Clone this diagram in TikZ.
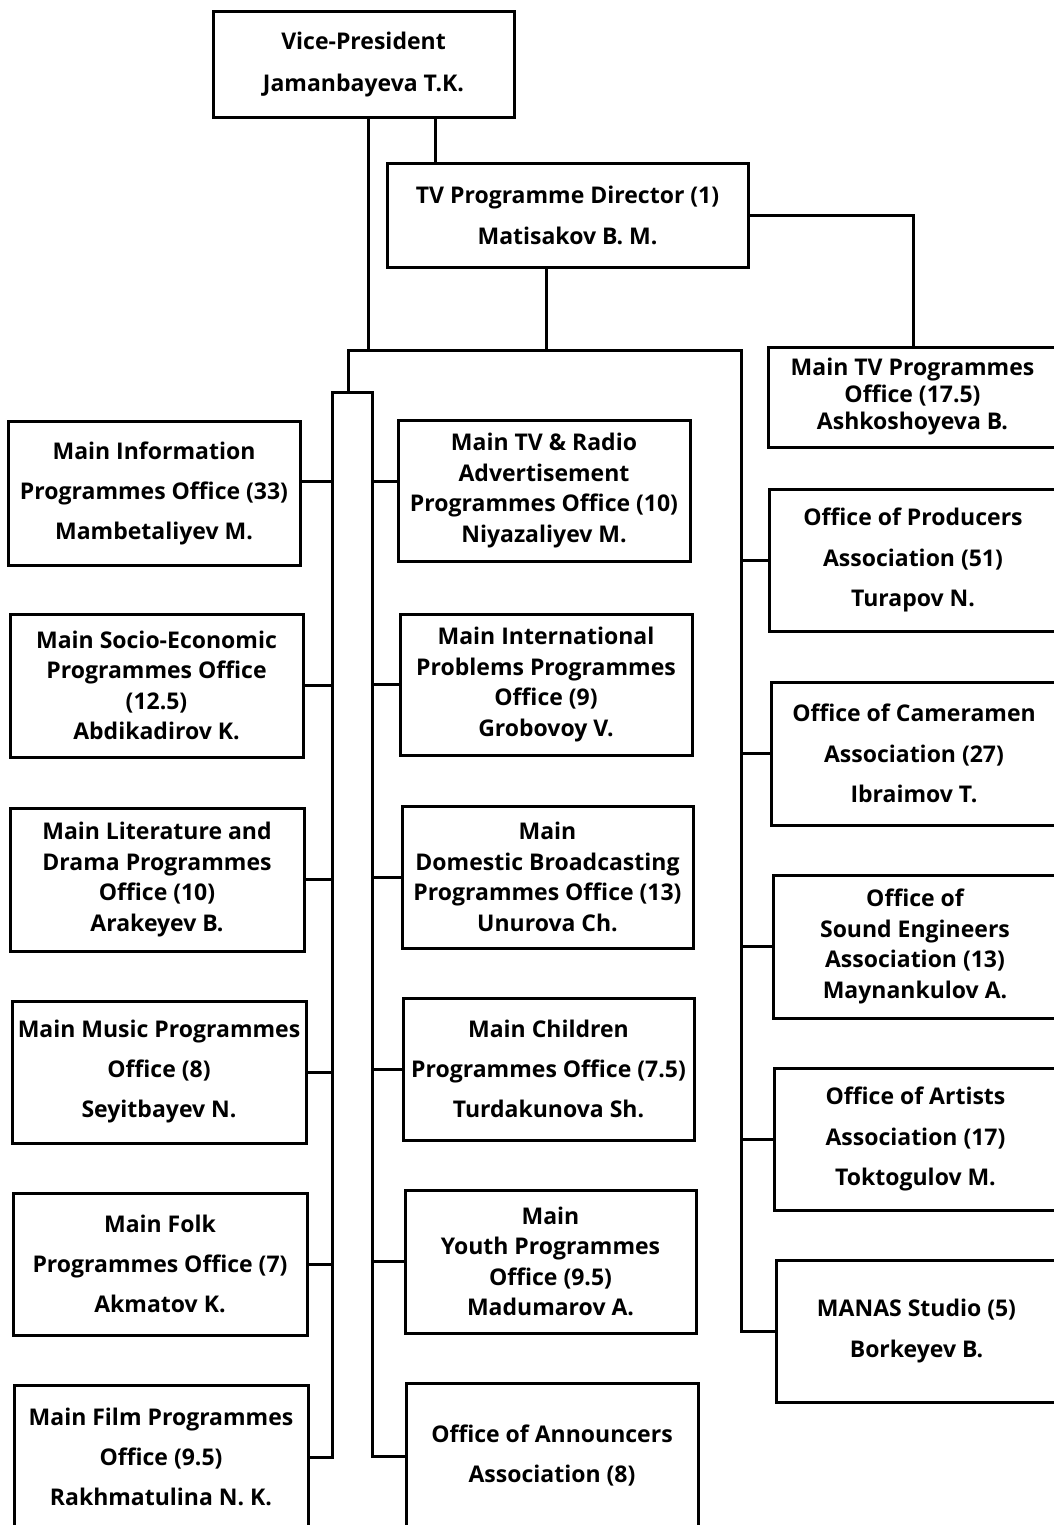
\documentclass[tikz,border=0pt]{standalone}
\usepackage{fontspec}
\newfontfamily\boxfont{Open Sans}
% #1 name, #2/#3 top-left corner, #4/#5 bottom-right corner, #6 line spacing, #7 text
\newcommand\orgbox[7]{%
  \node[orgbox, minimum width={#4-#2}, minimum height={#5-#3},
        font={\boxfont\bfseries\fontsize{23}{#6}\selectfont}]
        (#1) at ({(#2+#4)/2},{(#3+#5)/2+2}) {#7};}
\begin{document}
\begin{tikzpicture}[x=1pt,y=-1pt,
  orgbox/.style={draw, line width=3pt, inner sep=0pt, align=center},
  link/.style={line width=3pt, line join=miter}]
\useasboundingbox (0,0) rectangle (1054,1525);
\fill[white] (0,0) rectangle (1054,1525);
\clip (0,0) rectangle (1054,1525);

% top of the hierarchy
\orgbox{vp}{213}{10}{514}{116}{42}{Vice-President\\Jamanbayeva T.K.}
\orgbox{dir}{387}{162}{748}{265}{41}{TV Programme Director (1)\\Matisakov B. M.}
\orgbox{mtv}{768}{345}{1057}{445}{27}{Main TV Programmes\\Office (17.5)\\Ashkoshoyeva B.}

% left column
\orgbox{info}{8}{419}{300}{563}{40}{Main Information\\Programmes Office (33)\\Mambetaliyev M.}
\orgbox{socio}{10}{612}{303}{755}{30.5}{Main Socio-Economic\\Programmes Office\\(12.5)\\Abdikadirov K.}
\orgbox{lit}{10}{806}{304}{949}{30.5}{Main Literature and\\Drama Programmes\\Office (10)\\Arakeyev B.}
\orgbox{music}{12}{999}{306}{1141}{40}{Main Music Programmes\\Office (8)\\Seyitbayev N.}
\orgbox{folk}{13}{1191}{307}{1333}{40}{Main Folk\\Programmes Office (7)\\Akmatov K.}
\orgbox{film}{14}{1383}{308}{1527}{40}{Main Film Programmes\\Office (9.5)\\Rakhmatulina N. K.}

% middle column
\orgbox{adv}{398}{418}{690}{559}{30.5}{Main TV \& Radio\\Advertisement\\Programmes Office (10)\\Niyazaliyev M.}
\orgbox{intl}{400}{612}{692}{753}{30.5}{Main International\\Problems Programmes\\Office (9)\\Grobovoy V.}
\orgbox{dom}{402}{804}{693}{946}{30.5}{Main\\Domestic Broadcasting\\Programmes Office (13)\\Unurova Ch.}
\orgbox{child}{403}{996}{694}{1138}{40}{Main Children\\Programmes Office (7.5)\\Turdakunova Sh.}
\orgbox{youth}{405}{1188}{696}{1331}{30.5}{Main\\Youth Programmes\\Office (9.5)\\Madumarov A.}
\orgbox{ann}{406}{1381}{698}{1527}{40}{Office of Announcers\\Association (8)}

% right column
\orgbox{prod}{769}{487}{1057}{629}{40.5}{Office of Producers\\Association (51)\\Turapov N.}
\orgbox{cam}{771}{680}{1057}{823}{40.5}{Office of Cameramen\\Association (27)\\Ibraimov T.}
\orgbox{sound}{773}{873}{1057}{1016}{30.5}{Office of\\Sound Engineers\\Association (13)\\Maynankulov A.}
\orgbox{art}{774}{1066}{1057}{1208}{40.5}{Office of Artists\\Association (17)\\Toktogulov M.}
\orgbox{manas}{776}{1258}{1057}{1400}{41}{MANAS Studio (5)\\Borkeyev B.}

% positions of the connecting lines
\coordinate (xa) at (368,0);
\coordinate (xb) at (435,0);
\coordinate (xc) at (546,0);
\coordinate (xd) at (913,0);
\coordinate (xj) at (348,0);
\coordinate (lbus) at (332,0);
\coordinate (rbus) at (372,0);
\coordinate (xr) at (741,0);
\coordinate (hbar) at (0,350);
\coordinate (ntop) at (0,392);
\coordinate (row1) at (0,481);

% connectors from the top boxes
\draw[link] (vp.south -| xb) -- (dir.north -| xb);
\draw[link] (vp.south -| xa) -- (xa |- hbar);
\draw[link] (dir.south -| xc) -- (xc |- hbar);
\draw[link] (dir.east) -- (dir.east -| xd) -- (mtv.north -| xd);

% main bar and the three buses
\draw[link] (xj |- ntop) -- (xj |- hbar) -- (xr |- hbar) |- (manas.west);
\draw[link] (film.east) -| (lbus |- ntop) -- (rbus |- ntop) |- (ann.west);

% left column stubs
\draw[link] (info.east |- row1) -- (lbus |- row1);
\draw[link] (socio.east) -- (socio.east -| lbus);
\draw[link] (lit.east) -- (lit.east -| lbus);
\draw[link] (music.east) -- (music.east -| lbus);
\draw[link] (folk.east) -- (folk.east -| lbus);

% middle column stubs
\draw[link] (adv.west |- row1) -- (rbus |- row1);
\draw[link] (intl.west) -- (intl.west -| rbus);
\draw[link] (dom.west) -- (dom.west -| rbus);
\draw[link] (child.west) -- (child.west -| rbus);
\draw[link] (youth.west) -- (youth.west -| rbus);

% right column stubs
\draw[link] (prod.west) -- (prod.west -| xr);
\draw[link] (cam.west) -- (cam.west -| xr);
\draw[link] (sound.west) -- (sound.west -| xr);
\draw[link] (art.west) -- (art.west -| xr);
\end{tikzpicture}
\end{document}
